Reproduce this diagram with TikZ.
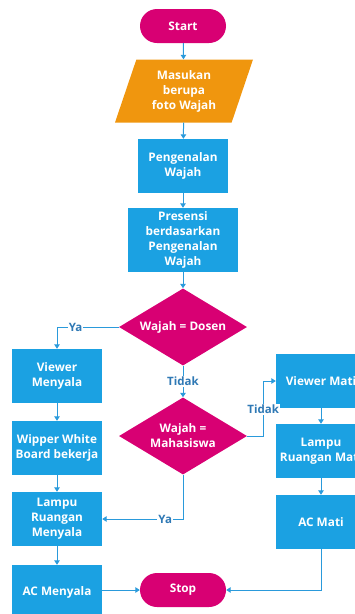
\documentclass[tikz,border=0pt]{standalone}
\usepackage{fontspec}
\setmainfont{Open Sans}
\usepackage{tikz}
\usetikzlibrary{arrows.meta,positioning,calc,shapes.geometric,shapes.misc}
\definecolor{berry}{HTML}{D80073}
\definecolor{amber}{HTML}{F0960E}
\definecolor{sky}{HTML}{1BA1E2}
\definecolor{wire}{HTML}{2A9ADB}
\definecolor{tag}{HTML}{2F79B5}

\begin{document}
\begin{tikzpicture}[x=1pt,y=-1pt]
    \tikzset{
      base/.style={draw=none,text=white,font=\fontsize{11.8}{15}\selectfont\bfseries,align=center,inner sep=1pt},
      term/.style={base,rounded rectangle,fill=berry,minimum width=88pt,minimum height=34pt},
      io/.style={base,trapezium,trapezium left angle=64,trapezium right angle=116,trapezium stretches body,fill=amber,minimum width=138pt,minimum height=63pt},
      proc/.style={base,rectangle,fill=sky,minimum width=90pt,minimum height=54pt},
      test/.style={base,diamond,fill=berry,minimum width=128pt,minimum height=77pt,inner sep=0pt},
      link/.style={draw=wire,line width=1pt,-{Triangle[width=5.5pt,length=4.5pt]}},
      lab/.style={fill=white,text=tag,font=\fontsize{11.5}{13}\selectfont\bfseries,inner sep=1pt}
    }
    \useasboundingbox (0,0) rectangle (354,614);
    \node[term] (start) at (183,26) {Start};
    \node[io] (input) at (184,91) {Masukan\\berupa\\foto Wajah};
    \node[proc] (recog) at (183,166) {Pengenalan\\Wajah};
    \node[proc,minimum width=110pt,minimum height=64pt] (pres) at (183,240) {Presensi\\berdasarkan\\Pengenalan\\Wajah};
    \node[test,label={[base]center:Wajah = Dosen}] (dosen) at (183,327) {};
    \node[test,label={[base]center:Wajah =\\Mahasiswa}] (mhs) at (183,436) {};
    \node[proc] (viewon) at (57,376) {Viewer\\Menyala};
    \node[proc] (wiper) at (57,448) {Wipper White\\Board bekerja};
    \node[proc] (lampon) at (57,519) {Lampu\\Ruangan\\Menyala};
    \node[proc] (acon) at (57,592) {AC Menyala};
    \node[term] (stop) at (183,590) {Stop};
    \node[proc] (viewoff) at (321,381) {Viewer Mati};
    \node[proc] (lampoff) at (321,451) {Lampu\\Ruangan Mati};
    \node[proc] (acoff) at (321,522) {AC Mati};
    \coordinate (bend) at ($(mhs.east)+(16,0)$);

    \draw[link] (start) -- (input);
    \draw[link] (input) -- (recog);
    \draw[link] (recog) -- (pres);
    \draw[link] (pres) -- (dosen);
    \draw[link] (dosen.west) -| node[lab,pos=0.35] {Ya} (viewon.north);
    \draw[link] (dosen) -- node[lab] {Tidak} (mhs);
    \draw[link] (mhs.east) -- (bend) |- node[lab,pos=0.24] {Tidak} (viewoff.west);
    \draw[link] (mhs.south) |- node[lab,pos=0.61] {Ya} (lampon.east);
    \draw[link] (viewon) -- (wiper);
    \draw[link] (wiper) -- (lampon);
    \draw[link] (lampon) -- (acon);
    \draw[link] (acon.east |- stop) -- (stop.west);
    \draw[link] (viewoff) -- (lampoff);
    \draw[link] (lampoff) -- (acoff);
    \draw[link] (acoff.south) |- (stop.east);
  \end{tikzpicture}
\end{document}
